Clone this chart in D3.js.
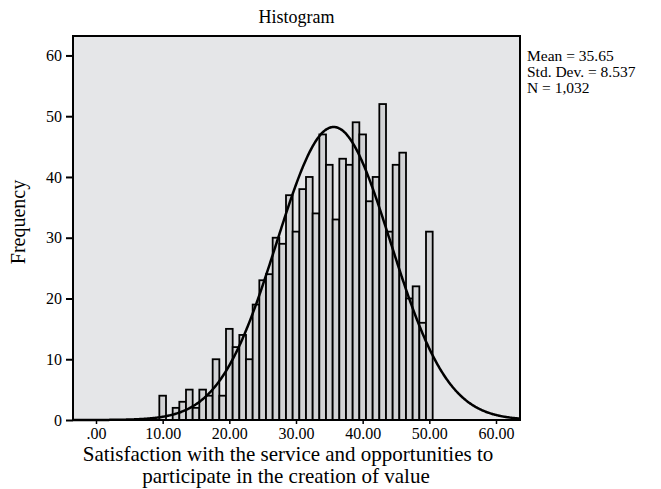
<!DOCTYPE html>
<html>
<head>
<meta charset="utf-8">
<script src="https://cdn.jsdelivr.net/npm/d3@7/dist/d3.min.js"></script>
<style>
  html, body { margin: 0; padding: 0; background: #ffffff; }
  svg { display: block; }
  text { font-family: "Liberation Serif", "Times New Roman", serif; fill: #000; }
</style>
</head>
<body>
<svg id="chart" width="661" height="489"></svg>
<script>
// ---- data ----
const binCenters = [10,11,12,13,14,15,16,17,18,19,20,21,22,23,24,25,26,27,28,29,30,
                    31,32,33,34,35,36,37,38,39,40,41,42,43,44,45,46,47,48,49,50];
const frequencies = [4,0,2,3,5,2,5,4,10,4,15,12,14,10,19,23,24,30,29,37,31,
                     38,40,34,47,42,33,43,42,49,47,36,40,52,31,42,44,20,22,16,31];
const xTickValues = [0,10,20,30,40,50,60];
const xTickLabels = [".00","10.00","20.00","30.00","40.00","50.00","60.00"];
const yTickValues = [0,10,20,30,40,50,60];
const statsLines = ["Mean = 35.65","Std. Dev. = 8.537","N = 1,032"];
const meanValue = 35.65, sdValue = 8.537, nValue = 1032, binWidth = 1;

// ---- layout ----
const svg = d3.select("#chart");
const box = {left: 73, right: 520, top: 36, bottom: 420};
const x = d3.scaleLinear().domain([-3.45, 63.6]).range([box.left, box.right]);
const y = d3.scaleLinear().domain([0, 63.2]).range([box.bottom, box.top]);

// plot background
svg.append("rect")
  .attr("x", box.left).attr("y", box.top)
  .attr("width", box.right - box.left).attr("height", box.bottom - box.top)
  .attr("fill", "#e5e6e8");

// bars
svg.append("g").selectAll("rect")
  .data(binCenters.map((c, i) => ({c, f: frequencies[i]})).filter(d => d.f > 0))
  .join("rect")
  .attr("x", d => x(d.c - binWidth / 2))
  .attr("y", d => y(d.f))
  .attr("width", d => x(d.c + binWidth / 2) - x(d.c - binWidth / 2))
  .attr("height", d => y(0) - y(d.f))
  .attr("fill", "#d2d3d5")
  .attr("stroke", "#000")
  .attr("stroke-width", 1.8);

// normal curve (from the stated mean / sd / N)
const curveX = d3.range(-3.45, 63.61, 0.1);
const pdf = v => nValue * binWidth * Math.exp(-0.5 * ((v - meanValue) / sdValue) ** 2) / (sdValue * Math.sqrt(2 * Math.PI));
svg.append("path")
  .datum(curveX)
  .attr("d", d3.line().x(v => x(v)).y(v => y(pdf(v))).curve(d3.curveBasis))
  .attr("fill", "none")
  .attr("stroke", "#000")
  .attr("stroke-width", 2.5);

// frame
svg.append("rect")
  .attr("x", box.left).attr("y", box.top)
  .attr("width", box.right - box.left).attr("height", box.bottom - box.top)
  .attr("fill", "none").attr("stroke", "#000").attr("stroke-width", 2);

// y axis
const yAxis = d3.axisLeft(y).tickValues(yTickValues).tickSize(7).tickPadding(4).tickFormat(d3.format("d"));
const gy = svg.append("g").attr("transform", `translate(${box.left},0)`).call(yAxis);
gy.select(".domain").remove();
gy.selectAll(".tick line").attr("stroke", "#000").attr("stroke-width", 2);
gy.selectAll(".tick text").style("font-family", "Liberation Serif").style("font-size", "16px");

// x axis
const xAxis = d3.axisBottom(x).tickValues(xTickValues).tickSize(4).tickPadding(4)
  .tickFormat((d, i) => xTickLabels[i]);
const gx = svg.append("g").attr("transform", `translate(0,${box.bottom})`).call(xAxis);
gx.select(".domain").remove();
gx.selectAll(".tick line").attr("stroke", "#000").attr("stroke-width", 1.5);
gx.selectAll(".tick text").style("font-family", "Liberation Serif").style("font-size", "16px");

// title
svg.append("text").attr("x", (box.left + box.right) / 2).attr("y", 23)
  .attr("text-anchor", "middle").style("font-size", "18px").text("Histogram");

// x axis title
svg.append("text").attr("x", 288).attr("y", 461).attr("text-anchor", "middle")
  .style("font-size", "21px").text("Satisfaction with the service and opportunities to");
svg.append("text").attr("x", 286).attr("y", 483).attr("text-anchor", "middle")
  .style("font-size", "21px").text("participate in the creation of value");

// y axis title
svg.append("text").attr("transform", "translate(25,222) rotate(-90)")
  .attr("text-anchor", "middle").style("font-size", "20px").text("Frequency");

// stats text
svg.append("g").selectAll("text").data(statsLines).join("text")
  .attr("x", 527).attr("y", (d, i) => 61 + i * 16)
  .style("font-size", "15.5px").text(d => d);
</script>
</body>
</html>
